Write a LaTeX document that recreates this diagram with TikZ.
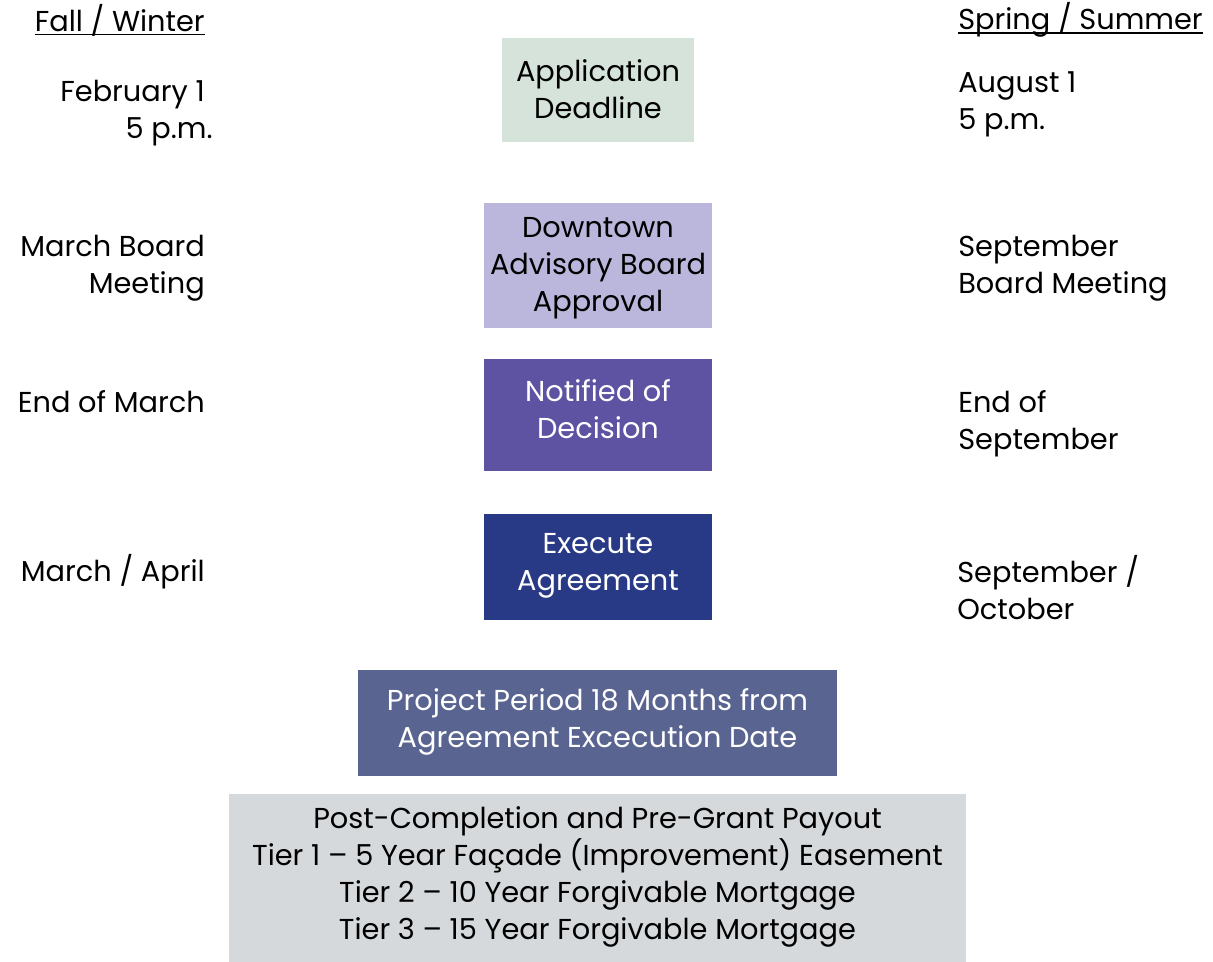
\documentclass[tikz,border=0pt]{standalone}
\usepackage{fontspec}
\setmainfont{Poppins}
\definecolor{cApp}{HTML}{D5E3DA}
\definecolor{cBoard}{HTML}{BAB6DC}
\definecolor{cNotif}{HTML}{5E52A3}
\definecolor{cExec}{HTML}{283A85}
\definecolor{cProj}{HTML}{596491}
\definecolor{cPost}{HTML}{D6D9DB}
\begin{document}
\begin{tikzpicture}[x=0.75pt,y=-0.75pt,
  every node/.style={font=\fontsize{21.6}{27.75}\selectfont, inner sep=0pt},
  stagebox/.style={rectangle, draw=none},
  stagetext/.style={align=center},
  lefttxt/.style={anchor=east, align=right},
  righttxt/.style={anchor=west, align=left},
  uline/.style={line width=1.1pt}]
\useasboundingbox (0,0) rectangle (1213,962);
% stage boxes
\node[stagebox, fill=cApp, minimum width=144pt, minimum height=78pt] (app) at (598,90) {};
\node[stagetext] (appt) at (598,89) {Application\\Deadline};
\node[stagebox, fill=cBoard, minimum width=171pt, minimum height=93.75pt] (board) at (598,265.5) {};
\node[stagetext] (boardt) at (598,268.5) {Downtown\\Advisory Board\\Approval};
\node[stagebox, fill=cNotif, minimum width=171pt, minimum height=84pt] (notif) at (598,415) {};
\node[stagetext, text=white] (notift) at (598,409) {Notified of\\Decision};
\node[stagebox, fill=cExec, minimum width=171pt, minimum height=79.5pt] (exec) at (598,567) {};
\node[stagetext, text=white] (exect) at (598,566) {Execute\\Agreement};
\node[stagebox, fill=cProj, minimum width=359.25pt, minimum height=79.5pt] (proj) at (597.5,723) {};
\node[stagetext, text=white] (projt) at (597.5,722) {Project Period 18 Months from\\Agreement Excecution Date};
\node[stagebox, fill=cPost, minimum width=552.75pt, minimum height=126pt] (post) at (597.5,878) {};
\node[stagetext] (postt) at (597.5,876.5) {Post-Completion and Pre-Grant Payout\\Tier 1 -- 5 Year Façade (Improvement) Easement\\Tier 2 -- 10 Year Forgivable Mortgage\\Tier 3 -- 15 Year Forgivable Mortgage};
% left column
\node[lefttxt] (fw) at (205,20) {Fall / Winter};
\draw[uline] ([yshift=-2.6pt]fw.base west) -- ([yshift=-2.6pt]fw.base east);
\node[lefttxt] (l1) at (205,113) {February 1\\5 p.m.\hspace*{-6pt}};
\node[lefttxt] (l2) at (205,268) {March Board\\Meeting};
\node[lefttxt] (l3) at (205,402) {End of March};
\node[lefttxt] (l4) at (205,572) {March / April};
% right column
\node[righttxt] (ss) at (958,20) {Spring / Summer};
\draw[uline] ([yshift=-2.6pt]ss.base west) -- ([yshift=-2.6pt]ss.base east);
\node[righttxt] (r1) at (958,104) {August 1\\5 p.m.};
\node[righttxt] (r2) at (958,268) {September\\Board Meeting};
\node[righttxt] (r3) at (958,424) {End of\\September};
\node[righttxt] (r4) at (957,588) {September /\\October};
\end{tikzpicture}
\end{document}
